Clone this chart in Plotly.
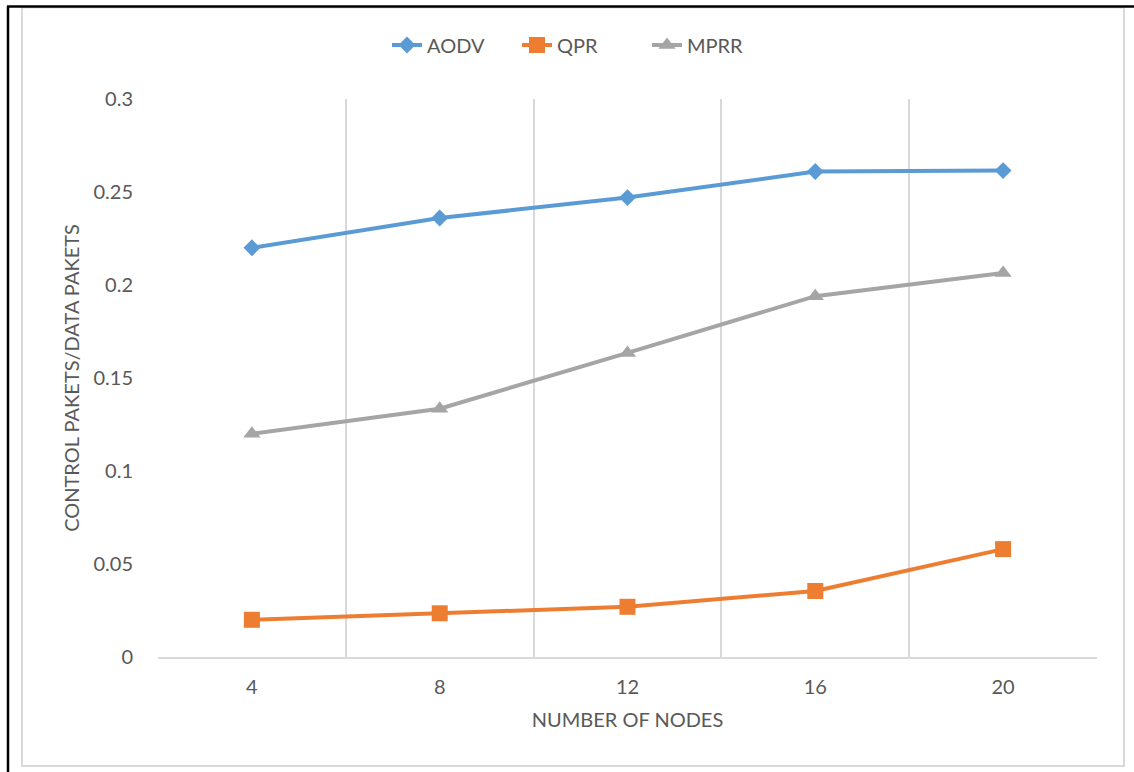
import plotly.graph_objects as go

# Network size (number of nodes) and control/data packet ratio per protocol
nodes = ["4", "8", "12", "16", "20"]
aodv = [0.220, 0.236, 0.247, 0.261, 0.2615]
qpr = [0.020, 0.0235, 0.027, 0.0355, 0.058]
mprr = [0.120, 0.1335, 0.1635, 0.194, 0.2065]

y_ticks = [0, 0.05, 0.1, 0.15, 0.2, 0.25, 0.3]

W, H = 1134, 772
ML, MR, MT, MB = 158, 37, 99, 115
PW, PH = W - ML - MR, H - MT - MB

FONT = "Lato"
TXT = "#595959"
GRID = "#D9D9D9"

pos = list(range(len(nodes)))

series = [
    ("AODV", aodv, "#5B9BD5", "diamond", 13),
    ("QPR", qpr, "#ED7D31", "square", 16),
    ("MPRR", mprr, "#A5A5A5", "triangle-up", 15),
]

fig = go.Figure()
for name, vals, color, symbol, size in series:
    fig.add_trace(go.Scatter(
        x=pos, y=vals, name=name, mode="lines+markers",
        line=dict(color=color, width=4),
        marker=dict(symbol=symbol, size=size, color=color,
                    line=dict(width=0)),
    ))

def px_x(px):
    return (px - ML) / PW

def px_y(py):
    return 1 - (py - MT) / PH

# chart frame: dark left/top edge, light outer border
shapes = [
    dict(type="rect", xref="paper", yref="paper",
         x0=px_x(22), x1=px_x(1124), y0=px_y(766), y1=px_y(7.5),
         line=dict(color=GRID, width=2), layer="below"),
    dict(type="line", xref="paper", yref="paper",
         x0=px_x(8), x1=px_x(8), y0=px_y(772), y1=px_y(6),
         line=dict(color="black", width=2.5)),
    dict(type="line", xref="paper", yref="paper",
         x0=px_x(7), x1=px_x(1134), y0=px_y(6.5), y1=px_y(6.5),
         line=dict(color="black", width=2.5)),
]

fig.update_layout(
    width=W, height=H,
    margin=dict(l=ML, r=MR, t=MT, b=MB),
    paper_bgcolor="white", plot_bgcolor="white",
    font=dict(family=FONT, size=20, color=TXT),
    showlegend=True,
    legend=dict(orientation="h", x=px_x(582), xanchor="center",
                y=px_y(45), yanchor="middle",
                font=dict(family=FONT, size=20, color=TXT),
                itemwidth=30, entrywidth=85, entrywidthmode="pixels",
                tracegroupgap=0),
    shapes=shapes,
    xaxis=dict(
        range=[-0.5, len(nodes) - 0.5],
        tickmode="array", tickvals=pos, ticktext=nodes,
        showgrid=False, zeroline=False,
        showline=True, linecolor=GRID, linewidth=1.5,
        ticks="outside", ticklen=11, tickcolor="rgba(0,0,0,0)",
        tickfont=dict(family=FONT, size=20, color=TXT),
        minor=dict(tickmode="array",
                   tickvals=[p - 0.5 for p in pos] + [len(nodes) - 0.5],
                   showgrid=True, gridcolor=GRID, gridwidth=1.5),
        title=dict(text="NUMBER OF NODES", standoff=16,
                   font=dict(family=FONT, size=20, color=TXT)),
        fixedrange=True,
    ),
    yaxis=dict(
        range=[0, 0.3],
        tickmode="array", tickvals=y_ticks,
        ticktext=[f"{v:g}" for v in y_ticks],
        showgrid=False, zeroline=False, showline=False,
        ticks="outside", ticklen=20, tickcolor="rgba(0,0,0,0)",
        tickfont=dict(family=FONT, size=20, color=TXT),
        title=dict(text="CONTROL PAKETS/DATA PAKETS", standoff=8,
                   font=dict(family=FONT, size=20, color=TXT)),
        fixedrange=True,
    ),
)

fig.write_html("out.html")
